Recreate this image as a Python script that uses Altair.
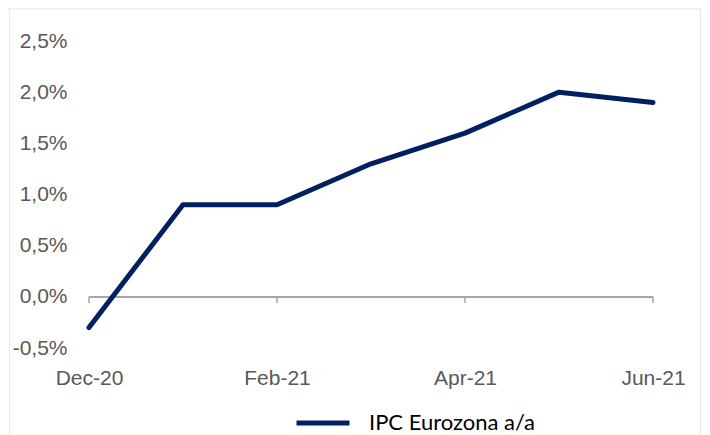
import altair as alt
import pandas as pd

months = ["Dec-20", "Jan-21", "Feb-21", "Mar-21", "Apr-21", "May-21", "Jun-21"]
values = [-0.003, 0.009, 0.009, 0.013, 0.016, 0.020, 0.019]
series_name = "IPC Eurozona a/a"
y_ticks = [-0.005, 0.0, 0.005, 0.010, 0.015, 0.020, 0.025]
x_ticks = months[::2]

df = pd.DataFrame({"mes": months, "valor": values, "serie": [series_name] * len(months)})
ticks_df = pd.DataFrame({"mes": x_ticks})

W, H = 564, 307
LABEL_GRAY = "#595959"

xscale = alt.Scale(type="point", domain=months, padding=0)
yscale = alt.Scale(domain=[-0.005, 0.025], nice=False, zero=False)

x_axis = alt.Axis(
    values=x_ticks,
    labelAngle=0,
    labelAlign="center",
    labelBaseline="top",
    domain=False,
    ticks=False,
    tickSize=0,
    grid=False,
    labelPadding=19,
    labelFontSize=21,
    labelFont="Liberation Sans",
    labelColor=LABEL_GRAY,
    title=None,
)

base = alt.Chart(df)

# decorative frame (top band and side borders)
frame_top = base.mark_rect(color="#eff1f1").encode(
    x=alt.value(-81), x2=alt.value(613), y=alt.value(-33), y2=alt.value(-31)
)
frame_left = base.mark_rule(color="#e8e8e8", strokeWidth=1).encode(
    x=alt.value(-79.5), y=alt.value(-31), y2=alt.value(420)
)
frame_right = base.mark_rule(color="#e8e8e8", strokeWidth=1).encode(
    x=alt.value(611.5), y=alt.value(-31), y2=alt.value(420)
)

zero_line = base.mark_rule(color="#a6a6a6", strokeWidth=1.5).encode(
    x=alt.datum("Dec-20", scale=xscale, axis=x_axis),
    x2=alt.datum("Jun-21"),
    y=alt.datum(0.0, scale=yscale),
)

tick_marks = alt.Chart(ticks_df).mark_rule(color="#a6a6a6", strokeWidth=1.5).encode(
    x=alt.X("mes:N", scale=xscale, axis=x_axis),
    y=alt.datum(0.0, scale=yscale),
    y2=alt.datum(-0.0006),
)

line = base.mark_line(strokeWidth=5, strokeCap="round", strokeJoin="round").encode(
    x=alt.X("mes:N", scale=xscale, sort=months, axis=x_axis),
    y=alt.Y(
        "valor:Q",
        scale=yscale,
        axis=alt.Axis(
            values=y_ticks,
            domain=False,
            ticks=False,
            tickSize=0,
            grid=False,
            labelPadding=22,
            labelFontSize=21,
            labelFont="Liberation Sans",
            labelColor=LABEL_GRAY,
            labelExpr="replace(replace(format(datum.value, '.1%'), '.', ','), '\u2212', '-')",
            title=None,
        ),
    ),
    color=alt.Color(
        "serie:N",
        scale=alt.Scale(range=["#002060"]),
        legend=alt.Legend(
            orient="none",
            legendX=205,
            legendY=353,
            title=None,
            symbolType="stroke",
            symbolStrokeWidth=5,
            symbolSize=2809,
            labelFontSize=22,
            labelLimit=400,
            labelFont="Lato",
            labelColor="black",
            labelOffset=17,
            padding=0,
        ),
    ),
)

chart = (
    alt.layer(frame_top, frame_left, frame_right, zero_line, tick_marks, line)
    .properties(
        width=W,
        height=H,
        autosize=alt.AutoSizeParams(type="none"),
        padding={"left": 81, "top": 33, "right": 49, "bottom": 87},
        background="white",
    )
    .configure_view(stroke=None)
)

chart.save("out.html", embed_options={"renderer": "svg", "actions": False})
